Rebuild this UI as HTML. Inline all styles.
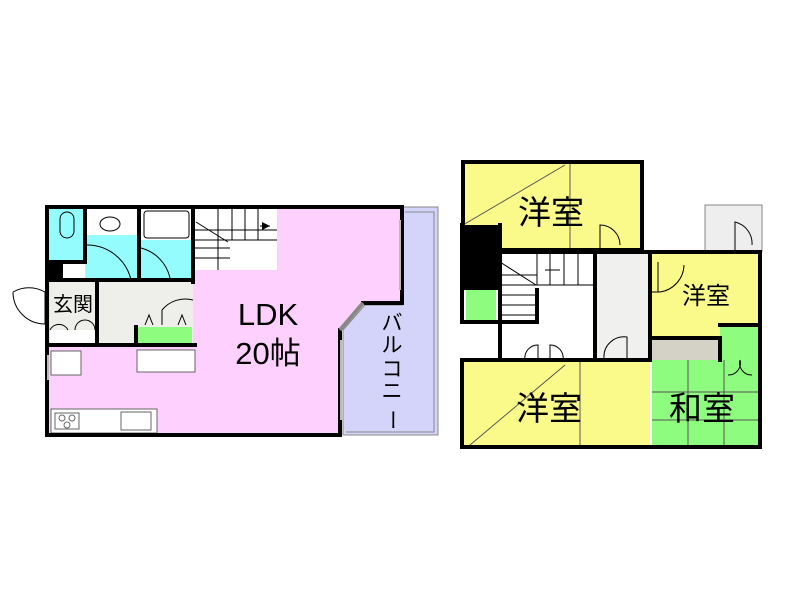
<!DOCTYPE html>
<html><head><meta charset="utf-8"><style>body{margin:0;background:#fff}svg{display:block}text{font-family:"Liberation Sans","Noto Sans CJK JP",sans-serif}</style></head><body>
<svg width="800" height="600" viewBox="0 0 800 600" xmlns="http://www.w3.org/2000/svg">
<rect width="800" height="600" fill="#fff"/>
<!-- LEFT FLOOR -->
<polygon points="402,207 438,207 438,435 343,435 343,330 365,305 402,305" fill="#d4d4fa" stroke="#888" stroke-width="1"/>
<polyline points="405,212 434,212 434,432 346,432" fill="none" stroke="#888" stroke-width="1"/>
<polygon points="47,207 402,207 402,303 363,303 340,330 340,435 47,435" fill="#fdd0fd"/>
<rect x="48" y="208" width="37" height="54" fill="#94fcfc"/>
<rect x="86" y="235" width="52" height="45" fill="#94fcfc"/>
<rect x="86" y="208" width="52" height="27" fill="#fff"/>
<rect x="141" y="240" width="52" height="40" fill="#94fcfc"/>
<rect x="141" y="208" width="52" height="32" fill="#fff"/>
<rect x="48" y="262" width="37" height="18" fill="#fff"/>
<rect x="48" y="262" width="15" height="18" fill="#000"/>
<rect x="195" y="208" width="82" height="62" fill="#fff"/>
<g stroke="#000" stroke-width="1" fill="none">
<path d="M195,230 H277 M218,208 V270 M232,208 V240 M245,208 V240 M258,208 V240 M230,240 H277 M195,248 H230 M195,258 H230 M195,240 H230"/>
<path d="M196,222 L228,242"/><path d="M260,226 L270,226"/>
<ellipse cx="110" cy="224" rx="10" ry="7"/>
<rect x="144" y="211" width="45" height="27" rx="3"/>
<rect x="60" y="212" width="14" height="26" rx="7"/>
<path d="M86,245 A45,45 0 0 1 131,280 M141,248 A40,40 0 0 1 170,278"/>
</g>
<polygon points="262,222 270,226 262,230" fill="#000"/>
<rect x="98" y="282" width="95" height="63" fill="#eeeeea"/>
<rect x="50" y="282" width="47" height="48" fill="#eeeeea"/>
<rect x="50" y="330" width="47" height="15" fill="#fff"/>
<rect x="137" y="327" width="55" height="18" fill="#8efc7e"/>
<rect x="137" y="350" width="58" height="22" fill="#fff" stroke="#666"/>
<rect x="51" y="351" width="30" height="24" fill="#fff" stroke="#666"/>
<rect x="51" y="409" width="106" height="24" fill="#fff" stroke="#666"/>
<rect x="55" y="413" width="24" height="16" fill="none" stroke="#666"/>
<rect x="121" y="412" width="30" height="18" fill="none" stroke="#666"/>
<g fill="none" stroke="#666"><circle cx="62" cy="418" r="3"/><circle cx="72" cy="418" r="3"/><circle cx="67" cy="425" r="3"/></g>
<g stroke="#000" fill="none" stroke-width="1">
<path d="M45,292 A32,32 0 0 0 13,292 M45,292 L45,324 A32,32 0 0 1 13,292"/>
<path d="M50,330 A10,10 0 0 1 68,330 M75,330 A10,10 0 0 1 95,330 M162,310 A30,30 0 0 1 193,300 M162,325 V310"/>
<path d="M145,325 l4,-10 l4,10 M178,325 l4,-10 l4,10"/>
</g>
<g stroke="#000" stroke-width="4" fill="none" stroke-linecap="square">
<polyline points="47,207 402,207 402,303 363,303"/>
<polyline points="340,330 340,435 47,435 47,207"/>
<path d="M85,207 V262 M139,207 V280 M193,207 V282 M47,280 H193 M97,282 V345 M47,345 H195 M136,327 V345 M47,262 H85"/>
</g>
<path d="M363,303 L340,330" stroke="#888" stroke-width="4"/>
<path d="M400,220 V290 M341,340 V420 M48,355 V380" stroke="#bbb" stroke-width="2"/>
<text x="73" y="311" font-size="20" text-anchor="middle">玄関</text>
<text x="268" y="325" font-size="31" text-anchor="middle">LDK</text>
<text x="268" y="364" font-size="31" text-anchor="middle">20帖</text>
<g font-size="21" text-anchor="middle"><text x="392" y="330">バ</text><text x="392" y="352">ル</text><text x="392" y="376">コ</text><text x="392" y="398">ニ</text><text x="392" y="420" writing-mode="tb">ー</text></g>
<!-- RIGHT FLOOR -->
<rect x="463" y="162" width="179" height="88" fill="#fafa8a"/>
<rect x="705" y="205" width="57" height="47" fill="#eee" stroke="#888"/>
<rect x="500" y="252" width="95" height="70" fill="#fff"/>
<rect x="500" y="322" width="95" height="38" fill="#fff"/>
<rect x="595" y="252" width="55" height="106" fill="#f0f0ee"/>
<rect x="650" y="252" width="110" height="85" fill="#fafa8a"/>
<rect x="652" y="340" width="66" height="20" fill="#d4d2c6"/>
<rect x="720" y="325" width="40" height="35" fill="#8efc7e"/>
<rect x="462" y="360" width="188" height="87" fill="#fafa8a"/>
<rect x="652" y="360" width="108" height="87" fill="#8efc7e"/>
<rect x="462" y="225" width="38" height="65" fill="#000"/>
<rect x="466" y="290" width="30" height="32" fill="#8efc7e"/>
<g stroke="#555" stroke-width="1" fill="none">
<path d="M570,162 V250 M463,225 L565,165 M580,360 V447 M470,445 L565,365"/>
<path d="M652,392 H760 M652,420 H760 M688,360 V447 M724,360 V447"/>
</g>
<g stroke="#000" stroke-width="1" fill="none">
<path d="M537,252 V285 M550,252 V285 M564,252 V285 M578,252 V285 M537,285 H595 M500,275 H537 M500,285 H537 M500,295 H537 M500,305 H537 M500,315 H537 M500,262 L536,285 M545,270 H560"/>
<path d="M600,250 V225 A20,20 0 0 1 620,245 M650,292 H660 A28,28 0 0 0 684,265 M658,292 V262 M735,250 V222 A22,22 0 0 1 752,245"/>
<path d="M604,358 A20,20 0 0 1 627,337 V358 M525,360 A13,13 0 0 1 538,345 V360 M563,360 A13,13 0 0 0 550,345 V360 M740,360 A12,12 0 0 0 752,375 M740,360 A12,12 0 0 1 728,375"/>
</g>
<g stroke="#000" stroke-width="4" fill="none" stroke-linecap="square">
<rect x="463" y="162" width="179" height="88"/>
<path d="M500,252 H760 V447 H462 V360 H650 M500,225 V322 M462,225 V322 H537 V290 M500,322 V360 M595,252 V360 M650,252 V360 M650,338 H720 V360 M720,325 H760"/>
</g>
<g font-size="33" text-anchor="middle">
<text x="551" y="224">洋室</text><text x="549" y="420">洋室</text><text x="702" y="420">和室</text>
<text x="706" y="304" font-size="24">洋室</text>
</g>
</svg>
</body></html>
